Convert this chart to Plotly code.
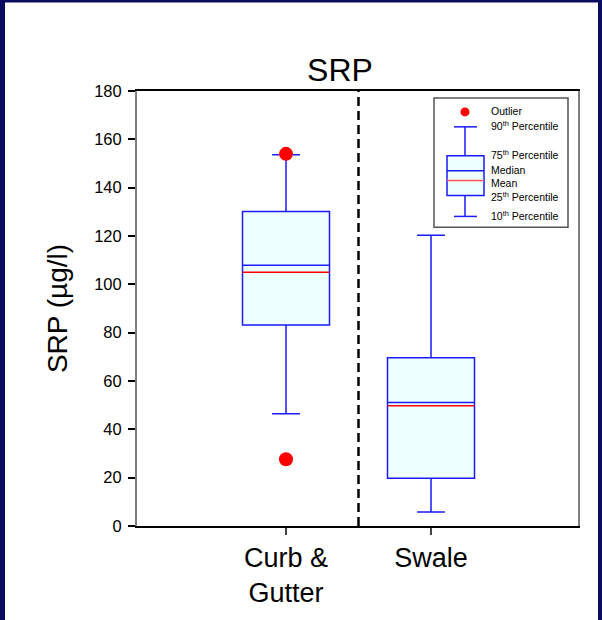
import plotly.graph_objects as go

# ---- data ----
categories = ["Curb &<br>Gutter", "Swale"]
positions = [1, 2]
q1 = [83.2, 19.8]
median = [107.9, 51.1]
q3 = [130.1, 69.6]
p10 = [46.5, 5.8]
p90 = [153.6, 120.3]
means = [105.0, 49.8]
outlier_x = [1, 1]
outlier_y = [154.0, 27.6]
y_ticks = [0, 20, 40, 60, 80, 100, 120, 140, 160, 180]

W, H = 602, 620
L, R, T, B = 137, 24, 91, 92
PW, PH = W - L - R, H - T - B


def px(x):
    return (x - L) / PW


def py(y):
    return (H - B - y) / PH


BOXW = 0.6
BLUE = "#1a1aff"
FILL = "#eeffff"
FONT = "Liberation Sans, Arial, sans-serif"

fig = go.Figure()

fig.add_trace(go.Box(
    x=positions, q1=q1, median=median, q3=q3,
    lowerfence=p10, upperfence=p90,
    width=BOXW, whiskerwidth=0.32,
    fillcolor=FILL, line=dict(color=BLUE, width=1.5),
    boxpoints=False, showlegend=False, hoverinfo="skip",
))

for xp, m in zip(positions, means):
    fig.add_trace(go.Scatter(
        x=[xp - BOXW / 2, xp + BOXW / 2], y=[m, m], mode="lines",
        line=dict(color="#ff0000", width=1.5), showlegend=False, hoverinfo="skip",
    ))

fig.add_trace(go.Scatter(
    x=outlier_x, y=outlier_y, mode="markers",
    marker=dict(color="#ff0000", size=14, line=dict(width=0)),
    showlegend=False, hoverinfo="skip",
))

shapes = []
# white page area over navy background
shapes.append(dict(type="rect", xref="paper", yref="paper", layer="below",
                   x0=px(5), x1=px(598), y0=py(640), y1=py(2),
                   fillcolor="white", line=dict(width=0)))
# dashed separator
shapes.append(dict(type="line", xref="x", yref="paper", x0=1.5, x1=1.5, y0=0, y1=1,
                   line=dict(color="black", width=2.5, dash="9px,5px")))

# ---- schematic key ----
shapes.append(dict(type="rect", xref="paper", yref="paper",
                   x0=px(434), x1=px(568), y0=py(228), y1=py(98),
                   fillcolor="white", line=dict(color="#555555", width=1.5)))
cx = 465
shapes.append(dict(type="line", xref="paper", yref="paper", x0=px(cx), x1=px(cx), y0=py(127), y1=py(156),
                   line=dict(color=BLUE, width=1.5)))
shapes.append(dict(type="line", xref="paper", yref="paper", x0=px(cx), x1=px(cx), y0=py(196), y1=py(217),
                   line=dict(color=BLUE, width=1.5)))
shapes.append(dict(type="line", xref="paper", yref="paper", x0=px(454), x1=px(477), y0=py(127), y1=py(127),
                   line=dict(color=BLUE, width=1.5)))
shapes.append(dict(type="line", xref="paper", yref="paper", x0=px(454), x1=px(477), y0=py(217), y1=py(217),
                   line=dict(color=BLUE, width=1.5)))
shapes.append(dict(type="rect", xref="paper", yref="paper", x0=px(447), x1=px(484), y0=py(196), y1=py(156),
                   fillcolor=FILL, line=dict(color=BLUE, width=1.5)))
shapes.append(dict(type="line", xref="paper", yref="paper", x0=px(447), x1=px(484), y0=py(171), y1=py(171),
                   line=dict(color=BLUE, width=1.5)))
shapes.append(dict(type="line", xref="paper", yref="paper", x0=px(447), x1=px(484), y0=py(181), y1=py(181),
                   line=dict(color="#ff5555", width=1.5)))
shapes.append(dict(type="circle", xref="paper", yref="paper", x0=px(460.5), x1=px(469.5), y0=py(116.5), y1=py(107.5),
                   fillcolor="#ff0000", line=dict(width=0)))

key_labels = [
    ("Outlier", 111),
    ("90<sup>th</sup> Percentile", 126),
    ("75<sup>th</sup> Percentile", 155),
    ("Median", 170),
    ("Mean", 183),
    ("25<sup>th</sup> Percentile", 197),
    ("10<sup>th</sup> Percentile", 216),
]
annotations = []
for txt, yy in key_labels:
    annotations.append(dict(xref="paper", yref="paper", x=px(489), y=py(yy), text=txt,
                            showarrow=False, xanchor="left", yanchor="middle",
                            font=dict(family=FONT, size=10.5, color="black")))

fig.update_layout(
    width=W, height=H,
    margin=dict(l=L, r=R, t=T, b=B, pad=0),
    paper_bgcolor="#0b0b60",
    plot_bgcolor="white",
    font=dict(family=FONT, color="black"),
    title=dict(text="SRP", x=340 / W, xanchor="center", y=1 - 70 / H, yanchor="middle",
               font=dict(size=32, family=FONT, color="black")),
    shapes=shapes,
    annotations=annotations,
    showlegend=False,
)

fig.update_xaxes(
    range=[1 - (286 - L) / 145, 1 + (578 - 286) / 145],
    tickvals=positions, ticktext=categories,
    ticks="outside", ticklen=7, tickwidth=1.5, tickcolor="#444444",
    tickfont=dict(size=27, family=FONT, color="black"),
    showline=True, linecolor="black", linewidth=1.5, mirror=True,
    showgrid=False, zeroline=False, fixedrange=True,
)
fig.update_yaxes(
    range=[0, 180], tickvals=y_ticks,
    ticks="outside", ticklen=7, tickwidth=1.5, tickcolor="black",
    tickfont=dict(size=16.5, family=FONT, color="black"),
    ticklabelstandoff=3,
    showline=True, linecolor="#808080", linewidth=2, mirror=True,
    showgrid=False, zeroline=False, fixedrange=True,
    title=dict(text="SRP (µg/l)", font=dict(size=28, family=FONT, color="black"), standoff=18),
)

fig.write_html("out.html")
